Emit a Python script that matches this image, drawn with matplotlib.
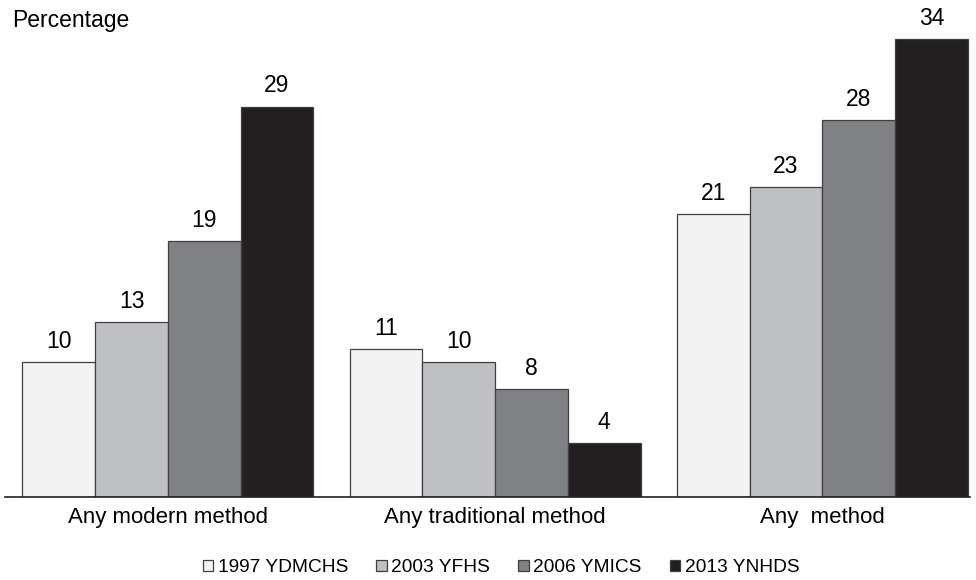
import numpy as np
import matplotlib.pyplot as plt

plt.rcParams['font.family'] = ['Liberation Sans', 'DejaVu Sans']

categories = ['Any modern method', 'Any traditional method', 'Any  method']
surveys = ['1997 YDMCHS', '2003 YFHS', '2006 YMICS', '2013 YNHDS']
values = {
    '1997 YDMCHS': [10, 11, 21],
    '2003 YFHS': [13, 10, 23],
    '2006 YMICS': [19, 8, 28],
    '2013 YNHDS': [29, 4, 34],
}
colors = ['#f2f3f2', '#bfc0c3', '#808184', '#231f20']

fig = plt.figure(figsize=(9.76, 5.8), dpi=100)
ax = fig.add_axes([5 / 976, 83 / 580, 965 / 976, 467 / 580])

centers = np.arange(len(categories)) * 4.5
width = 1.0
for i, name in enumerate(surveys):
    x = centers + (i - 1.5) * width
    bars = ax.bar(x, values[name], width, color=colors[i], edgecolor='#404040',
                  linewidth=0.9, label=name)
    for b, v in zip(bars, values[name]):
        ax.text(b.get_x() + b.get_width() / 2, v + 0.7, str(v),
                ha='center', va='bottom', fontsize=16.5)

ax.set_xlim(-2.24, 11.03)
ax.set_ylim(0, 34.7)
ax.set_xticks(centers)
ax.set_xticklabels(categories, fontsize=16)
ax.tick_params(axis='x', length=0, pad=7)
ax.set_yticks([])
for s in ['top', 'right', 'left']:
    ax.spines[s].set_visible(False)
ax.spines['bottom'].set_linewidth(1.2)
ax.spines['bottom'].set_color('#231f20')

fig.text(12 / 976, 1 - 20 / 580, 'Percentage', fontsize=16.5, va='center')

ax.legend(loc='center', bbox_to_anchor=(501 / 976, 1 - 568 / 580),
          bbox_transform=fig.transFigure, ncol=4, frameon=False,
          fontsize=13.8, handlelength=0.55, handleheight=0.55,
          handletextpad=0.25, columnspacing=1.45, borderpad=0)

fig.savefig('out.png', dpi=100)
